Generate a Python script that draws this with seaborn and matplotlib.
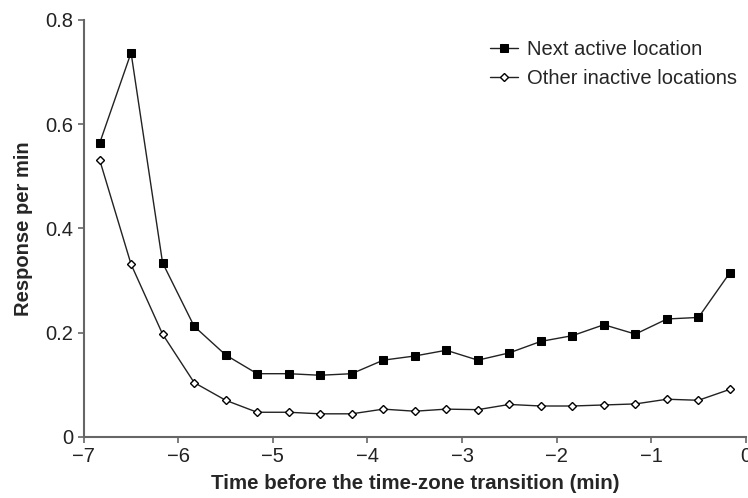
import numpy as np
import pandas as pd
import matplotlib
matplotlib.use("Agg")
import matplotlib.pyplot as plt
import seaborn as sns

# dados
tempo = [-6.833, -6.5, -6.167, -5.833, -5.5, -5.167, -4.833, -4.5, -4.167, -3.833,
         -3.5, -3.167, -2.833, -2.5, -2.167, -1.833, -1.5, -1.167, -0.833, -0.5, -0.167]
proxima_ativa = [0.563, 0.737, 0.334, 0.212, 0.157, 0.121, 0.121, 0.118, 0.121, 0.147,
                 0.155, 0.166, 0.147, 0.161, 0.183, 0.194, 0.215, 0.197, 0.226, 0.229, 0.315]
outras_inativas = [0.532, 0.331, 0.197, 0.104, 0.070, 0.047, 0.047, 0.044, 0.044, 0.053,
                   0.049, 0.053, 0.052, 0.062, 0.059, 0.059, 0.061, 0.063, 0.072, 0.070, 0.091]
xticks = [-7, -6, -5, -4, -3, -2, -1, 0]
yticks = [0, 0.2, 0.4, 0.6, 0.8]
ytick_labels = ["0", "0.2", "0.4", "0.6", "0.8"]

sns.set_style("ticks")
plt.rcParams["font.family"] = ["Liberation Sans", "DejaVu Sans"]

fig = plt.figure(figsize=(7.48, 4.98), dpi=100)
ax = fig.add_axes([0.112, 0.123, 0.885, 0.837])

sns.lineplot(x=tempo, y=proxima_ativa, ax=ax, color="#222222", lw=1.0,
             marker="s", markersize=6.2, markerfacecolor="black", markeredgecolor="black",
             label="Next active location")
sns.lineplot(x=tempo, y=outras_inativas, ax=ax, color="#222222", lw=1.0,
             marker="D", markersize=4.5, markerfacecolor="white", markeredgecolor="black",
             markeredgewidth=1.0, label="Other inactive locations")

ax.set_xlim(-7, 0)
ax.set_ylim(0, 0.8)
ax.set_xticks(xticks)
ax.set_yticks(yticks)
ax.set_yticklabels(ytick_labels)
ax.tick_params(labelsize=14.5, labelcolor="#222222", length=4, width=1.2,
               direction="out", color="#666666")
for s in ["left", "bottom"]:
    ax.spines[s].set_color("#666666")
    ax.spines[s].set_linewidth(1.5)
sns.despine(ax=ax)

ax.set_xlabel("Time before the time-zone transition (min)", fontsize=14.8,
              fontweight="bold", labelpad=6)
ax.set_ylabel("Response per min", fontsize=14.5, fontweight="bold", labelpad=9)

leg = ax.legend(loc="upper left", frameon=False, fontsize=14.5, handlelength=1.4,
                handletextpad=0.45, labelspacing=0.5, borderpad=0, borderaxespad=0,
                bbox_to_anchor=(0.613, 0.951))

fig.savefig("out.png", dpi=100)
plt.close()
